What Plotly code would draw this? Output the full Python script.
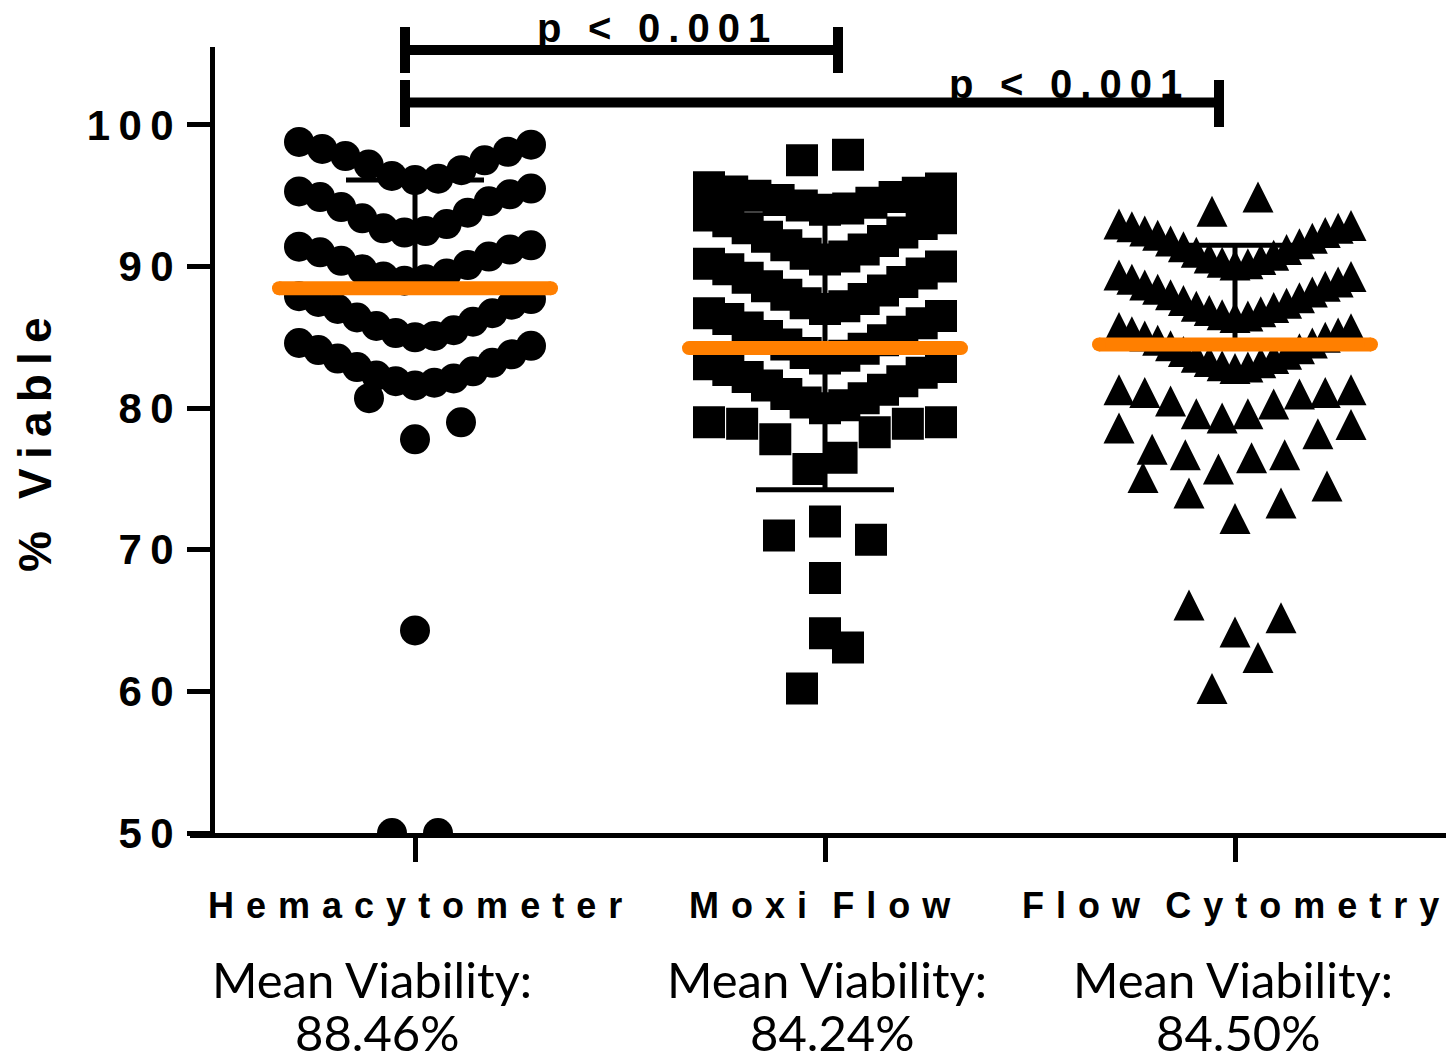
import plotly.graph_objects as go

# ---- data -----------------------------------------------------------------
categories = ["Hemacytometer", "Moxi Flow", "Flow Cytometry"]

hemacytometer = [
    50.0, 50.0, 64.3, 77.8, 79.0, 80.7,
    81.6, 81.8, 81.9, 82.1, 82.3, 82.6, 82.9, 83.2, 83.5, 83.8, 84.1, 84.4, 84.6,
    85.0, 85.1, 85.3, 85.5, 85.8, 86.1, 86.4, 86.7, 87.0, 87.3, 87.5, 87.7, 87.9,
    89.0, 89.1, 89.3, 89.5, 89.8, 90.1, 90.4, 90.7, 91.0, 91.2, 91.4, 91.5,
    92.4, 92.5, 92.7, 93.0, 93.4, 93.8, 94.2, 94.6, 94.9, 95.1, 95.3, 95.5,
    96.1, 96.2, 96.4, 96.8, 97.2, 97.5, 97.8, 98.1, 98.3, 98.6, 98.8,
]

moxi_flow = [
    60.2, 63.1, 64.1, 68.0, 70.7, 71.0, 72.0,
    75.7, 76.5, 77.8, 78.3, 78.9, 78.9, 79.0, 79.0,
    80.0, 80.2, 80.4, 80.7, 81.0, 81.3, 81.6, 81.9, 82.2, 82.5, 82.7, 82.9, 83.1,
    83.5, 83.7, 83.9, 84.2, 84.5, 84.8, 85.1, 85.4, 85.7, 86.0, 86.3, 86.5, 86.7,
    87.0, 87.2, 87.4, 87.7, 88.0, 88.3, 88.6, 88.9, 89.2, 89.5, 89.8, 90.0, 90.2,
    90.5, 90.7, 90.9, 91.2, 91.5, 91.8, 92.1, 92.4, 92.7, 93.0, 93.2, 93.4, 93.6,
    94.0, 94.1, 94.3, 94.5, 94.7, 94.9, 95.0, 95.2, 95.3, 95.5, 95.6,
    97.5, 97.9,
]

flow_cytometry = [
    60.2, 62.4, 64.2, 65.2, 66.1,
    72.2, 73.3, 74.0, 74.5, 75.1,
    75.7, 76.5, 76.7, 76.7, 77.1, 78.2, 78.6, 78.85,
    79.3, 79.6, 79.6, 80.3, 80.5, 81.0, 81.1, 81.1, 81.3, 81.3,
    82.8, 82.9, 83.0, 83.2, 83.3, 83.5, 83.6, 83.8, 84.0, 84.2,
    84.4, 84.6, 84.8, 85.0, 85.1, 85.3, 85.4, 85.6, 85.7,
    86.4, 86.5, 86.6, 86.8, 86.9, 87.1, 87.2, 87.4, 87.6, 87.8,
    88.0, 88.2, 88.4, 88.6, 88.7, 88.9, 89.1, 89.3, 89.4,
    90.1, 90.2, 90.3, 90.5, 90.6, 90.8, 91.0, 91.2, 91.4, 91.6,
    91.8, 92.0, 92.2, 92.4, 92.5, 92.7, 92.8, 92.9, 93.0,
    93.9, 94.9,
]

mean_viability = [88.46, 84.24, 84.50]
sd_above = [7.64, 10.0, 7.0]
sd_below = [0.0, 10.0, 0.0]

y_ticks = [50, 60, 70, 80, 90, 100]
p_labels = ["p < 0.001", "p < 0.001"]

# ---- geometry -------------------------------------------------------------
W, H = 1446, 1063
M_L, M_R, M_T, M_B = 190, 0, 47, 230
PLOT_W = W - M_L - M_R
PLOT_H = H - M_T - M_B
PX_PER_CAT = 410.0
FIRST_CAT_PX = 415.0
X_RANGE = [(M_L - FIRST_CAT_PX) / PX_PER_CAT, (W - M_R - FIRST_CAT_PX) / PX_PER_CAT]
Y_RANGE = [50, 105.5]
PX_PER_UNIT = PLOT_H / (Y_RANGE[1] - Y_RANGE[0])


def px_x(px):
    return (px - M_L) / PLOT_W


def px_y(py):
    return (H - M_B - py) / PLOT_H


def swarm_offsets(values, row_span=3.4, max_step=46.0, max_width=232.0):
    """Prism-style scatter: group sorted values into rows, spread each row
    sideways with the lowest value in the middle."""
    order = sorted(range(len(values)), key=lambda i: values[i])
    rows = []
    for i in order:
        if rows and values[i] < values[rows[-1][0]] + row_span - 1e-9:
            rows[-1].append(i)
        else:
            rows.append([i])
    offs = [0.0] * len(values)
    for row in rows:
        n = len(row)
        step = max_step if n < 2 else min(max_step, max_width / (n - 1))
        if n % 2:
            slots = [0] + [s for k in range(1, n // 2 + 1) for s in (k, -k)]
        else:
            slots = [s for k in range(n // 2) for s in (-(k + 0.5), k + 0.5)]
        for i, slot in zip(row, slots):
            offs[i] = slot * step
    return offs


def spaced(text, gap="\u2004", word_gap="\u2002\u2009"):
    return word_gap.join(gap.join(word) for word in text.split())


BOLD = "Liberation Sans"
ORANGE = "#FF7F00"

fig = go.Figure()

# SD bars sit behind the symbols
fig.add_trace(go.Scatter(
    x=[0, 1, 2], y=mean_viability, mode="markers",
    marker=dict(size=1, color="rgba(0,0,0,0)"),
    error_y=dict(type="data", symmetric=False, array=sd_above, arrayminus=sd_below,
                 color="black", thickness=5, width=69),
    hoverinfo="skip",
))

groups = [
    (hemacytometer, "circle", 30),
    (moxi_flow, "square", 32),
    (flow_cytometry, "arrow-up", 31),
]
for k, (vals, symbol, size) in enumerate(groups):
    offs = swarm_offsets(vals)
    xs = [k + o / PX_PER_CAT for o in offs]
    # arrow-up is anchored at its apex: lift it so the triangle is centred on the value
    lift = (size / 2) / PX_PER_UNIT if symbol == "arrow-up" else 0.0
    ys = [v + lift for v in vals]
    fig.add_trace(go.Scatter(
        x=xs, y=ys, mode="markers",
        marker=dict(symbol=symbol, size=size, color="black", line=dict(width=0)),
        hoverinfo="skip",
    ))

# orange mean lines with rounded ends
half = (143 - 7) / PX_PER_CAT
for k, m in enumerate(mean_viability):
    fig.add_trace(go.Scatter(
        x=[k - half, k + half], y=[m, m], mode="lines+markers",
        line=dict(color=ORANGE, width=14),
        marker=dict(color=ORANGE, size=14, symbol="circle"),
        hoverinfo="skip",
    ))

fig.update_layout(
    width=W, height=H,
    margin=dict(l=M_L, r=M_R, t=M_T, b=M_B, pad=0),
    plot_bgcolor="white", paper_bgcolor="white",
    showlegend=False,
    xaxis=dict(
        range=X_RANGE, showgrid=False, zeroline=False,
        showline=True, linewidth=5, linecolor="black",
        tickmode="array", tickvals=[0, 1, 2], ticks="outside",
        ticklen=24, tickwidth=5, tickcolor="black", showticklabels=False,
    ),
    yaxis=dict(
        range=Y_RANGE, showgrid=False, zeroline=False,
        anchor="free", position=px_x(212), side="left",
        showline=True, linewidth=5, linecolor="black",
        tickmode="array", tickvals=y_ticks,
        ticktext=["\u2009".join(str(t)) for t in y_ticks],
        ticks="outside", ticklen=23, tickwidth=5, tickcolor="black",
        tickfont=dict(family=BOLD, size=42, color="black", weight="bold"),
        ticklabelstandoff=5,
    ),
)

annotations = []
# y-axis title
annotations.append(dict(
    text="%\u2002\u2009" + "\u2009".join("Viable"), textangle=-90,
    xref="paper", yref="paper", x=px_x(35), y=px_y(445),
    xanchor="center", yanchor="middle", showarrow=False,
    font=dict(family=BOLD, size=46, color="black", weight="bold"),
))

# group names and mean viability captions
name_shift = [0, -5, -5]
mean_shift = [-43, 2, -2]
for k, name in enumerate(categories):
    annotations.append(dict(
        text=spaced(name), xref="x", yref="paper", x=k, xshift=name_shift[k],
        y=px_y(906), xanchor="center", yanchor="middle", showarrow=False,
        font=dict(family=BOLD, size=36, color="black", weight="bold"),
    ))
    caption_font = dict(family="Lato", size=49, color="black")
    annotations.append(dict(
        text="Mean Viability:", xref="x", yref="paper", x=k, xshift=mean_shift[k],
        y=px_y(979), xanchor="center", yanchor="middle", showarrow=False,
        font=caption_font,
    ))
    annotations.append(dict(
        text=f"{mean_viability[k]:.2f}%", xref="x", yref="paper", x=k,
        xshift=mean_shift[k] + 5, y=0, yshift=-M_B, xanchor="center",
        yanchor="bottom", showarrow=False, font=caption_font,
    ))

# significance brackets
brackets = [
    dict(a=0, b=1, la=-10, rb=13, y=50, top=27, bot=73, tx=653, ty=28),
    dict(a=0, b=2, la=-10, rb=-16, y=102.5, top=80, bot=127, tx=1065, ty=84),
]
shapes = []
for br, lab in zip(brackets, p_labels):
    x0 = br["a"] + br["la"] / PX_PER_CAT
    x1 = br["b"] + br["rb"] / PX_PER_CAT
    line = dict(color="black", width=10)
    shapes.append(dict(type="line", xref="x", yref="paper", x0=x0, x1=x1,
                       y0=px_y(br["y"]), y1=px_y(br["y"]), line=line))
    for xx in (x0, x1):
        shapes.append(dict(type="line", xref="x", yref="paper", x0=xx, x1=xx,
                           y0=px_y(br["top"]), y1=px_y(br["bot"]), line=line))
    parts = lab.split(" ")
    ptxt = "\u2002\u2006".join(parts[:2]) + "\u2002\u2006" + "\u2009".join(parts[2])
    annotations.append(dict(
        text=ptxt, xref="paper", yref="paper", x=px_x(br["tx"]), y=px_y(br["ty"]),
        xanchor="center", yanchor="middle", showarrow=False,
        font=dict(family=BOLD, size=40, color="black", weight="bold"),
    ))

fig.update_layout(annotations=annotations, shapes=shapes)
fig.write_html("out.html")
